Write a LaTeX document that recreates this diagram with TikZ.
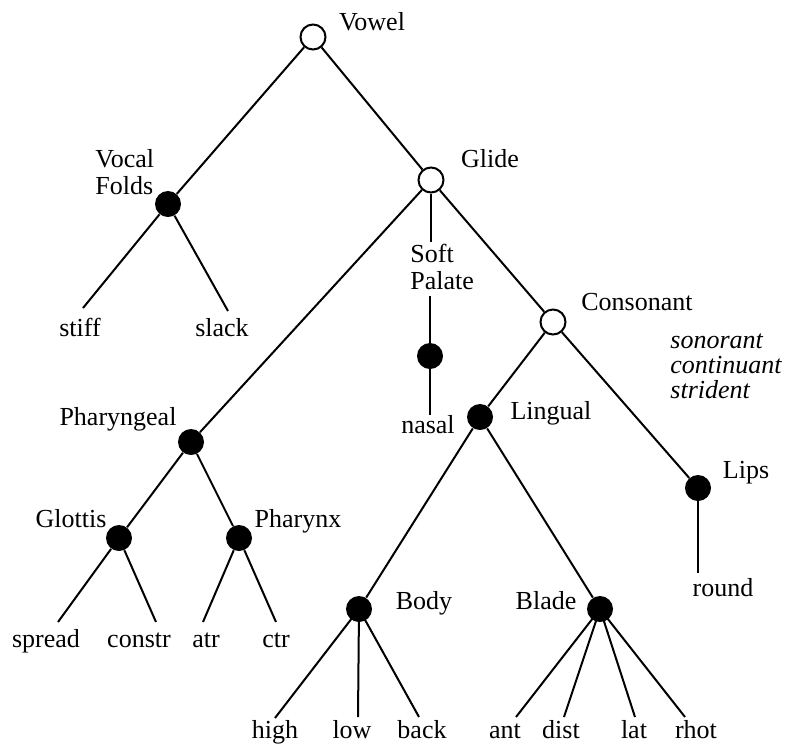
\documentclass[tikz,border=0pt]{standalone}
\usepackage{fontspec}
\setmainfont{Liberation Serif}
\begin{document}
\begin{tikzpicture}[x=0.5pt,y=-0.5pt,
  edge/.style={line width=1pt},
  opennode/.style={circle,draw,line width=1pt,fill=white,minimum size=12.5pt,inner sep=0pt},
  dotnode/.style={circle,fill=black,minimum size=13pt,inner sep=0pt},
  lab/.style={font=\fontsize{13}{13.5}\selectfont,inner sep=0pt,anchor=base},
  labml/.style={font=\fontsize{13}{13.5}\selectfont,inner sep=0pt,anchor=north west,align=left},
  feat/.style={font=\fontsize{13}{13.5}\selectfont\itshape,inner sep=0pt,anchor=base west},
]
\useasboundingbox (0,0) rectangle (787,746);

% tree nodes
\node[opennode] (vowel) at (313,37) {};
\node[opennode] (glide) at (431,180) {};
\node[opennode] (cons) at (553,322) {};
\node[dotnode] (vf) at (168,204) {};
\node[dotnode] (phar) at (191,442) {};
\node[dotnode] (glot) at (119,538) {};
\node[dotnode] (phx) at (239,538) {};
\node[dotnode] (soft) at (430,356) {};
\node[dotnode] (ling) at (480,417) {};
\node[dotnode] (lips) at (698,488) {};
\node[dotnode] (body) at (359,609) {};
\node[dotnode] (blade) at (600,609) {};

% labels
\node[lab] (l-vowel) at (372,30) {Vowel};
\node[lab] (l-glide) at (490,167) {Glide};
\node[labml] (l-vf) at (95,149) {Vocal\\Folds};
\node[labml] (l-sp) at (410,244) {Soft\\Palate};
\node[lab] (l-cons) at (637,310) {Consonant};
\node[feat] (f1) at (670,348) {sonorant};
\node[feat] (f2) at (670,373) {continuant};
\node[feat] (f3) at (670,398) {strident};
\node[lab] (l-ling) at (551,419) {Lingual};
\node[lab] (l-lips) at (746,478) {Lips};
\node[lab] (l-phar) at (118,425) {Pharyngeal};
\node[lab] (l-glot) at (71,527) {Glottis};
\node[lab] (l-phx) at (298,527) {Pharynx};
\node[lab] (l-body) at (424,609) {Body};
\node[lab] (l-blade) at (546,609) {Blade};

% terminal features
\node[lab] (stiff) at (80,336) {stiff};
\node[lab] (slack) at (222,336) {slack};
\node[lab] (nasal) at (428,433) {nasal};
\node[lab] (round) at (723,596) {round};
\node[lab] (spread) at (46,647) {spread};
\node[lab] (constr) at (139,647) {constr};
\node[lab] (atr) at (206,647) {atr};
\node[lab] (ctr) at (276,647) {ctr};
\node[lab] (high) at (275,738) {high};
\node[lab] (low) at (352,738) {low};
\node[lab] (back) at (422,738) {back};
\node[lab] (ant) at (505,738) {ant};
\node[lab] (dist) at (561,738) {dist};
\node[lab] (lat) at (634,738) {lat};
\node[lab] (rhot) at (696,738) {rhot};

% free line ends
\coordinate (e-stiff) at (83,308);
\coordinate (e-slack) at (228,311);
\coordinate (e-sptop) at (431,242);
\coordinate (e-spbot) at (430,296);
\coordinate (e-nasal) at (430,415);
\coordinate (e-round) at (698,573);
\coordinate (e-spread) at (58,622);
\coordinate (e-constr) at (156,622);
\coordinate (e-atr) at (203,622);
\coordinate (e-ctr) at (276,622);
\coordinate (e-high) at (275,718);
\coordinate (e-low) at (358,717);
\coordinate (e-back) at (419,717);
\coordinate (e-ant) at (516,717);
\coordinate (e-dist) at (564,717);
\coordinate (e-lat) at (635,717);
\coordinate (e-rhot) at (685,717);

% connectors
\draw[edge] (vowel) -- (vf);
\draw[edge] (vowel) -- (glide);
\draw[edge] (vf) -- (e-stiff);
\draw[edge] (vf) -- (e-slack);
\draw[edge] (glide) -- (phar);
\draw[edge] (glide) -- (e-sptop);
\draw[edge] (e-spbot) -- (soft);
\draw[edge] (soft) -- (e-nasal);
\draw[edge] (glide) -- (cons);
\draw[edge] (cons) -- (ling);
\draw[edge] (cons) -- (lips);
\draw[edge] (lips) -- (e-round);
\draw[edge] (phar) -- (glot);
\draw[edge] (phar) -- (phx);
\draw[edge] (glot) -- (e-spread);
\draw[edge] (glot) -- (e-constr);
\draw[edge] (phx) -- (e-atr);
\draw[edge] (phx) -- (e-ctr);
\draw[edge] (ling) -- (body);
\draw[edge] (ling) -- (blade);
\draw[edge] (body.center) -- (e-high);
\draw[edge] (body.center) -- (e-low);
\draw[edge] (body.center) -- (e-back);
\draw[edge] (blade.center) -- (e-ant);
\draw[edge] (blade.center) -- (e-dist);
\draw[edge] (blade.center) -- (e-lat);
\draw[edge] (blade.center) -- (e-rhot);
\end{tikzpicture}
\end{document}
